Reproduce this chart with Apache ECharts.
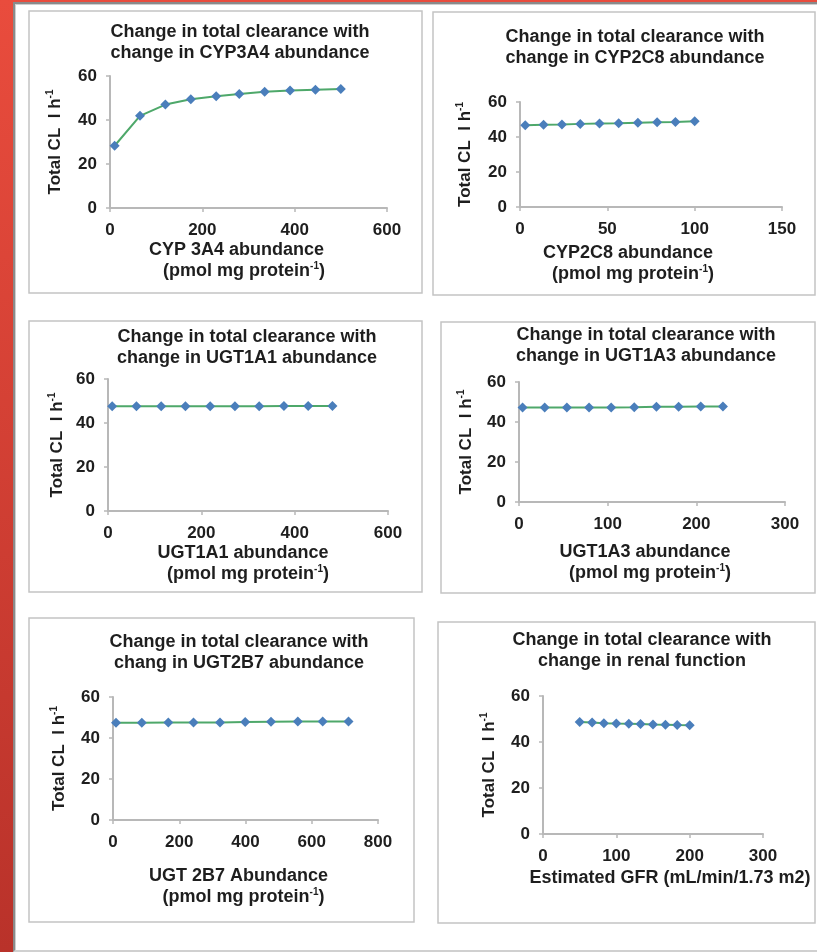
<!DOCTYPE html>
<html>
<head>
<meta charset="utf-8">
<script src="https://cdn.jsdelivr.net/npm/echarts@6/dist/echarts.min.js"></script>
<style>
  html, body { margin: 0; padding: 0; }
  body {
    width: 817px; height: 952px; overflow: hidden; position: relative;
    background: linear-gradient(to bottom, #e94c3d, #b9322a);
  }
  #page {
    position: absolute; left: 13px; top: 2px; right: 0; bottom: 0;
    background: #fff;
    border-left: 2px solid #8a8a8a; border-top: 2px solid #8a8a8a;
    border-bottom: 2px solid #d0d0d0;
    box-shadow: inset 1px 1px 0 #cfcfcf;
  }
  #chart { position: absolute; left: 0; top: 0; width: 817px; height: 952px; }
</style>
</head>
<body>
<div id="page"></div>
<div id="chart"></div>
<script>
// values
const cyp3a4X = [10, 65, 120, 175, 230, 280, 335, 390, 445, 500];
const cyp3a4CL = [28.3, 41.9, 47, 49.4, 50.8, 51.8, 52.8, 53.4, 53.8, 54.1];

const cyp2c8X = [3, 13.5, 24, 34.5, 45.5, 56.5, 67.5, 78.5, 89, 100];
const cyp2c8CL = [46.7, 47, 47.2, 47.5, 47.7, 47.9, 48.2, 48.4, 48.6, 49];

const ugt1a1X = [9, 61, 114, 166, 219, 272, 324, 377, 429, 481];
const ugt1a1CL = [47.6, 47.6, 47.6, 47.6, 47.6, 47.6, 47.6, 47.7, 47.7, 47.7];

const ugt1a3X = [4, 29, 54, 79, 104, 130, 155, 180, 205, 230];
const ugt1a3CL = [47.3, 47.3, 47.3, 47.3, 47.3, 47.4, 47.6, 47.6, 47.7, 47.7];

const ugt2b7X = [9, 87, 167, 243, 323, 399, 477, 558, 633, 711];
const ugt2b7CL = [47.5, 47.5, 47.6, 47.6, 47.6, 47.8, 47.9, 48, 48, 48.1];

const gfrX = [50, 67, 83, 100, 117, 133, 150, 167, 183, 200];
const gfrCL = [48.7, 48.5, 48.2, 48, 47.9, 47.8, 47.6, 47.5, 47.4, 47.3];

const titles = [
  "Change in total clearance with\nchange in CYP3A4 abundance",
  "Change in total clearance with\nchange in CYP2C8 abundance",
  "Change in total clearance with\nchange in UGT1A1 abundance",
  "Change in total clearance with\nchange in UGT1A3 abundance",
  "Change in total clearance with\nchang in UGT2B7 abundance",
  "Change in total clearance with\nchange in renal function"
];
const xNames = [
  "CYP 3A4 abundance\n   (pmol mg protein{sup|-1})",
  "CYP2C8 abundance\n  (pmol mg protein{sup|-1})",
  "UGT1A1 abundance\n  (pmol mg protein{sup|-1})",
  "UGT1A3 abundance\n  (pmol mg protein{sup|-1})",
  "UGT 2B7 Abundance\n  (pmol mg protein{sup|-1})",
  "Estimated GFR (mL/min/1.73 m2)"
];
const yName = "Total CL  l h{sup|-1}";
const xMax = [600, 150, 600, 300, 800, 300];
const xStep = [200, 50, 200, 100, 200, 100];
const yTicks = [0, 20, 40, 60];

const seriesX = [cyp3a4X, cyp2c8X, ugt1a1X, ugt1a3X, ugt2b7X, gfrX];
const seriesY = [cyp3a4CL, cyp2c8CL, ugt1a1CL, ugt1a3CL, ugt2b7CL, gfrCL];

// layout of each panel (frame, plot area, title centre, name gaps, name shift)
const panels = [
  { box: [29, 11, 393, 282], grid: [110, 76, 277, 132], tx: 240, ty: 22, xGap: 32, yGap: 45, shift: -12 },
  { box: [433, 12, 382, 283], grid: [520, 102, 262, 105], tx: 635, ty: 27, xGap: 36, yGap: 45, shift: -23 },
  { box: [29, 321, 393, 271], grid: [108, 379, 280, 132], tx: 247, ty: 327, xGap: 32, yGap: 41, shift: -5 },
  { box: [441, 322, 374, 271], grid: [519, 382, 266, 120], tx: 646, ty: 325, xGap: 40, yGap: 43, shift: -7 },
  { box: [29, 618, 385, 304], grid: [113, 697, 265, 123], tx: 239, ty: 632, xGap: 46, yGap: 44, shift: -7 },
  { box: [438, 622, 377, 301], grid: [543, 696, 220, 138], tx: 642, ty: 630, xGap: 34, yGap: 44, shift: 17 }
];

const font = "'Liberation Sans', Arial, sans-serif";
const ink = "#1e1e1e";
const axisGray = "#b8b8b8";
const supStyle = { fontSize: 10, fontWeight: "bold", fontFamily: font, color: ink, verticalAlign: "top" };

const chart = echarts.init(document.getElementById("chart"), null, { renderer: "canvas" });

chart.setOption({
  backgroundColor: "transparent",
  animation: false,
  graphic: panels.map((p) => ({
    type: "rect",
    shape: { x: p.box[0], y: p.box[1], width: p.box[2], height: p.box[3] },
    style: { fill: "#fff", stroke: "#c4c4c4", lineWidth: 1.5 },
    z: -10
  })),
  title: panels.map((p, i) => ({
    text: titles[i],
    left: p.tx,
    top: p.ty,
    textAlign: "center",
    padding: 0,
    textStyle: { fontFamily: font, fontSize: 18, fontWeight: "bold", lineHeight: 21, color: ink }
  })),
  grid: panels.map((p) => ({
    left: p.grid[0], top: p.grid[1], width: p.grid[2], height: p.grid[3]
  })),
  xAxis: panels.map((p, i) => ({
    gridIndex: i,
    type: "value",
    min: 0,
    max: xMax[i],
    interval: xStep[i],
    name: xNames[i],
    nameLocation: "middle",
    nameGap: p.xGap,
    nameTextStyle: {
      fontFamily: font, fontSize: 18, fontWeight: "bold", color: ink, lineHeight: 21,
      padding: p.shift < 0 ? [0, -2 * p.shift, 0, 0] : [0, 0, 0, 2 * p.shift],
      rich: { sup: supStyle }
    },
    splitLine: { show: false },
    axisLine: { show: true, lineStyle: { color: axisGray, width: 2 } },
    axisTick: { show: true, inside: false, length: 4, lineStyle: { color: axisGray, width: 1.5 } },
    axisLabel: { fontFamily: font, fontSize: 17, fontWeight: "bold", color: ink, margin: 14 }
  })),
  yAxis: panels.map((p, i) => ({
    gridIndex: i,
    type: "value",
    min: yTicks[0],
    max: yTicks[yTicks.length - 1],
    interval: yTicks[1] - yTicks[0],
    name: yName,
    nameLocation: "middle",
    nameGap: p.yGap,
    nameRotate: 90,
    nameTextStyle: {
      fontFamily: font, fontSize: 17, fontWeight: "bold", color: ink, lineHeight: 20,
      rich: { sup: supStyle }
    },
    splitLine: { show: false },
    axisLine: { show: true, lineStyle: { color: axisGray, width: 2 } },
    axisTick: { show: true, inside: false, length: 4, lineStyle: { color: axisGray, width: 1.5 } },
    axisLabel: { fontFamily: font, fontSize: 17, fontWeight: "bold", color: ink, margin: 13 }
  })),
  series: seriesX.map((xs, i) => ({
    type: "line",
    xAxisIndex: i,
    yAxisIndex: i,
    data: xs.map((x, j) => [x, seriesY[i][j]]),
    symbol: "diamond",
    symbolSize: 10,
    itemStyle: { color: "#4a7ebb" },
    lineStyle: { color: "#4ea86a", width: 2 },
    z: 3
  }))
});
</script>
</body>
</html>
